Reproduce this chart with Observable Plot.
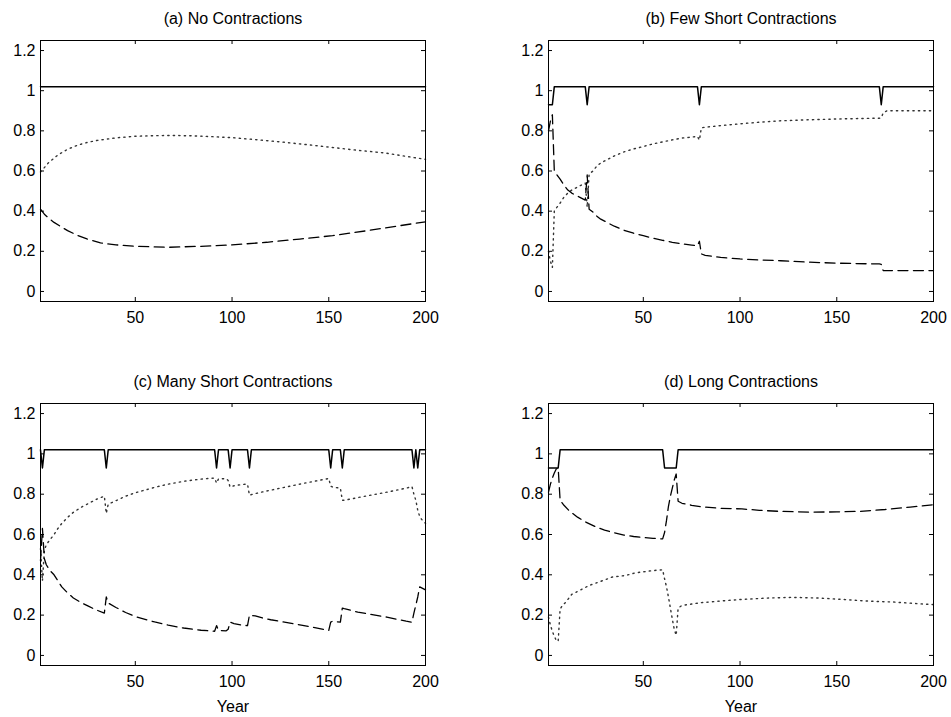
<!DOCTYPE html>
<html>
<head>
<meta charset="utf-8">
<script src="https://cdn.jsdelivr.net/npm/d3@7"></script>
<script src="https://cdn.jsdelivr.net/npm/@observablehq/plot@0.6"></script>
<style>
html, body { margin: 0; padding: 0; background: #fff; }
#wrap { position: relative; width: 951px; height: 717px; background: #fff; }
#wrap > div { position: absolute; }
</style>
</head>
<body>
<div id="wrap"></div>
<script>
// ---------- data ----------
const titles = ["(a) No Contractions", "(b) Few Short Contractions", "(c) Many Short Contractions", "(d) Long Contractions"];
const xLabel = "Year";
const xTicks = [50, 100, 150, 200];
const yTicks = [0, 0.2, 0.4, 0.6, 0.8, 1, 1.2];
const yearsDomain = [1, 200];

// solid line: level in expansion / contraction years
const EXPANSION = 1.02;
const CONTRACTION = 0.93;
const aContractions = [];
const bContractions = [1, 2, 3, 21, 79, 173];
const cContractions = [2, 35, 92, 99, 109, 151, 157, 194, 196];
const dContractions = [1, 2, 3, 4, 5, 6, 61, 62, 63, 64, 65, 66, 67];

// dashed series [year, value]
const aDashed = [[1,0.41],[3,0.385],[5,0.367],[8,0.344],[12,0.32],[15,0.303],[20,0.28],[25,0.262],[32,0.242],[40,0.232],[50,0.225],[67,0.22],[84,0.225],[100,0.232],[118,0.245],[135,0.261],[152,0.278],[170,0.303],[187,0.328],[200,0.347]];
const bDashed = [[1,0.80],[2,0.85],[3,0.88],[4,0.60],[5,0.585],[7,0.56],[9,0.53],[11,0.505],[13,0.49],[15,0.48],[17,0.47],[19,0.46],[20,0.455],[21,0.58],[22,0.41],[24,0.395],[26,0.375],[28,0.36],[30,0.35],[35,0.325],[40,0.305],[45,0.29],[50,0.278],[55,0.265],[60,0.255],[65,0.245],[70,0.237],[75,0.231],[78,0.228],[79,0.25],[80,0.187],[82,0.18],[90,0.17],[100,0.162],[110,0.157],[121,0.153],[135,0.146],[150,0.141],[160,0.139],[172,0.137],[173,0.135],[174,0.104],[200,0.104]];
const cDashed = [[1,0.47],[2,0.63],[3,0.48],[4,0.45],[6,0.42],[8,0.40],[10,0.37],[12,0.34],[15,0.31],[18,0.285],[22,0.262],[26,0.243],[30,0.225],[34,0.21],[35,0.29],[36,0.26],[40,0.238],[45,0.213],[50,0.193],[60,0.166],[67,0.15],[75,0.136],[84,0.125],[91,0.12],[92,0.148],[93,0.124],[97,0.122],[98,0.13],[99,0.165],[101,0.158],[105,0.15],[108,0.148],[109,0.2],[112,0.196],[116,0.185],[120,0.177],[135,0.152],[150,0.124],[151,0.165],[152,0.17],[156,0.165],[157,0.235],[158,0.232],[165,0.215],[170,0.207],[180,0.19],[190,0.17],[193,0.165],[194,0.21],[195,0.25],[196,0.29],[197,0.34],[200,0.325]];
const dDashed = [[1,0.81],[2,0.85],[3,0.88],[4,0.905],[5,0.925],[6,0.93],[7,0.77],[9,0.745],[12,0.715],[16,0.686],[20,0.663],[25,0.64],[30,0.622],[35,0.608],[40,0.597],[45,0.59],[50,0.585],[55,0.581],[60,0.578],[61,0.61],[62,0.67],[63,0.74],[64,0.79],[65,0.83],[66,0.87],[67,0.90],[68,0.765],[70,0.755],[75,0.745],[80,0.737],[90,0.73],[101,0.727],[110,0.72],[120,0.715],[136,0.711],[150,0.712],[162,0.715],[175,0.724],[188,0.736],[200,0.748]];

// dotted series [year, value]
const aDotted = [[1,0.595],[3,0.617],[5,0.64],[10,0.68],[15,0.708],[20,0.728],[25,0.742],[30,0.752],[40,0.765],[50,0.773],[60,0.776],[70,0.777],[80,0.775],[90,0.771],[100,0.766],[110,0.758],[125,0.745],[140,0.73],[153,0.716],[165,0.703],[179,0.69],[190,0.673],[200,0.658]];
const bDotted = [[1,0.20],[2,0.15],[3,0.12],[4,0.40],[5,0.415],[7,0.44],[9,0.47],[11,0.49],[13,0.505],[15,0.515],[17,0.525],[19,0.535],[20,0.54],[21,0.42],[22,0.585],[24,0.60],[26,0.625],[28,0.64],[30,0.65],[35,0.675],[40,0.695],[45,0.71],[50,0.722],[55,0.735],[60,0.745],[65,0.755],[70,0.764],[75,0.769],[78,0.772],[79,0.754],[80,0.815],[82,0.818],[90,0.826],[100,0.835],[110,0.843],[121,0.85],[135,0.855],[150,0.859],[160,0.861],[172,0.863],[173,0.865],[174,0.89],[176,0.9],[200,0.9]];
const cDotted = [[1,0.53],[2,0.37],[3,0.52],[4,0.55],[6,0.575],[8,0.60],[10,0.63],[12,0.655],[15,0.685],[18,0.71],[22,0.735],[26,0.755],[30,0.775],[34,0.79],[35,0.705],[36,0.75],[40,0.768],[45,0.79],[50,0.807],[60,0.834],[67,0.85],[75,0.864],[84,0.875],[91,0.88],[92,0.855],[93,0.876],[97,0.877],[98,0.868],[99,0.835],[101,0.842],[105,0.848],[108,0.85],[109,0.795],[112,0.803],[116,0.812],[120,0.82],[135,0.85],[150,0.878],[151,0.84],[152,0.835],[156,0.83],[157,0.77],[158,0.77],[165,0.783],[170,0.792],[180,0.81],[190,0.83],[193,0.838],[194,0.8],[195,0.77],[196,0.72],[197,0.69],[198,0.675],[200,0.655]];
const dDotted = [[1,0.19],[2,0.15],[3,0.12],[4,0.095],[5,0.075],[6,0.07],[7,0.23],[8,0.245],[10,0.265],[13,0.303],[17,0.322],[22,0.347],[27,0.364],[34,0.389],[41,0.397],[46,0.41],[51,0.416],[55,0.421],[60,0.425],[61,0.38],[62,0.34],[63,0.29],[64,0.235],[65,0.18],[66,0.13],[67,0.10],[68,0.235],[70,0.248],[75,0.255],[80,0.262],[84,0.265],[90,0.27],[101,0.278],[115,0.285],[127,0.288],[140,0.285],[153,0.278],[165,0.27],[179,0.265],[190,0.258],[200,0.252]];

// ---------- layout / style ----------
const FONT = "'Liberation Sans', Arial, Helvetica, sans-serif";
const TICK = 4;
const layout = [
  {left: 0,   top: 0,   width: 475, height: 330, mt: 40, mb: 29, ml: 40, mr: 50, xlab: false},
  {left: 475, top: 0,   width: 476, height: 330, mt: 40, mb: 29, ml: 73, mr: 18, xlab: false},
  {left: 0,   top: 355, width: 475, height: 362, mt: 48, mb: 52, ml: 40, mr: 50, xlab: true},
  {left: 475, top: 355, width: 476, height: 362, mt: 48, mb: 52, ml: 73, mr: 18, xlab: true}
];
const panels = [
  {contr: aContractions, dashed: aDashed, dotted: aDotted},
  {contr: bContractions, dashed: bDashed, dotted: bDotted},
  {contr: cContractions, dashed: cDashed, dotted: cDotted},
  {contr: dContractions, dashed: dDashed, dotted: dDotted}
];

function activity(contr) {
  return d3.range(yearsDomain[0], yearsDomain[1] + 1).map(y => ({year: y, value: contr.includes(y) ? CONTRACTION : EXPANSION}));
}

const wrap = document.getElementById("wrap");
panels.forEach((p, i) => {
  const L = layout[i];
  const fw = L.width - L.ml - L.mr;
  const fh = L.height - L.mt - L.mb;
  const chart = Plot.plot({
    width: L.width, height: L.height,
    marginLeft: L.ml, marginRight: L.mr, marginTop: L.mt, marginBottom: L.mb,
    style: {fontFamily: FONT, fontSize: "16px", background: "transparent", color: "#000", overflow: "visible"},
    x: {domain: yearsDomain, label: null},
    y: {domain: [-0.05, 1.25], label: null},
    marks: [
      Plot.axisX({ticks: xTicks, tickSize: 0, tickPadding: 10, label: null, tickFormat: d => String(d)}),
      Plot.axisY({ticks: yTicks, tickSize: 0, tickPadding: 5, label: null, tickFormat: d => String(d)}),
      Plot.ruleY(yTicks, {y: d => d, insetRight: fw - TICK, stroke: "#000"}),
      Plot.ruleY(yTicks, {y: d => d, insetLeft: fw - TICK, stroke: "#000"}),
      Plot.ruleX(xTicks, {x: d => d, insetTop: fh - TICK, stroke: "#000"}),
      Plot.ruleX(xTicks, {x: d => d, insetBottom: fh - TICK, stroke: "#000"}),
      Plot.line(p.dotted, {x: d => d[0], y: d => d[1], stroke: "#333", strokeWidth: 1.4, strokeDasharray: "1.3,4.2"}),
      Plot.line(p.dashed, {x: d => d[0], y: d => d[1], stroke: "#000", strokeWidth: 1.3, strokeDasharray: "10,5.5"}),
      Plot.line(activity(p.contr), {x: "year", y: "value", stroke: "#000", strokeWidth: 1.5}),
      Plot.frame({stroke: "#000", strokeWidth: 1}),
      Plot.text([titles[i]], {text: d => d, frameAnchor: "top", dy: -17, lineAnchor: "bottom", fontSize: 16}),
      L.xlab ? Plot.text([xLabel], {text: d => d, frameAnchor: "bottom", dy: 46, lineAnchor: "bottom", fontSize: 16}) : null
    ]
  });
  const holder = document.createElement("div");
  holder.style.left = L.left + "px";
  holder.style.top = L.top + "px";
  holder.appendChild(chart);
  wrap.appendChild(holder);
});
</script>
</body>
</html>
